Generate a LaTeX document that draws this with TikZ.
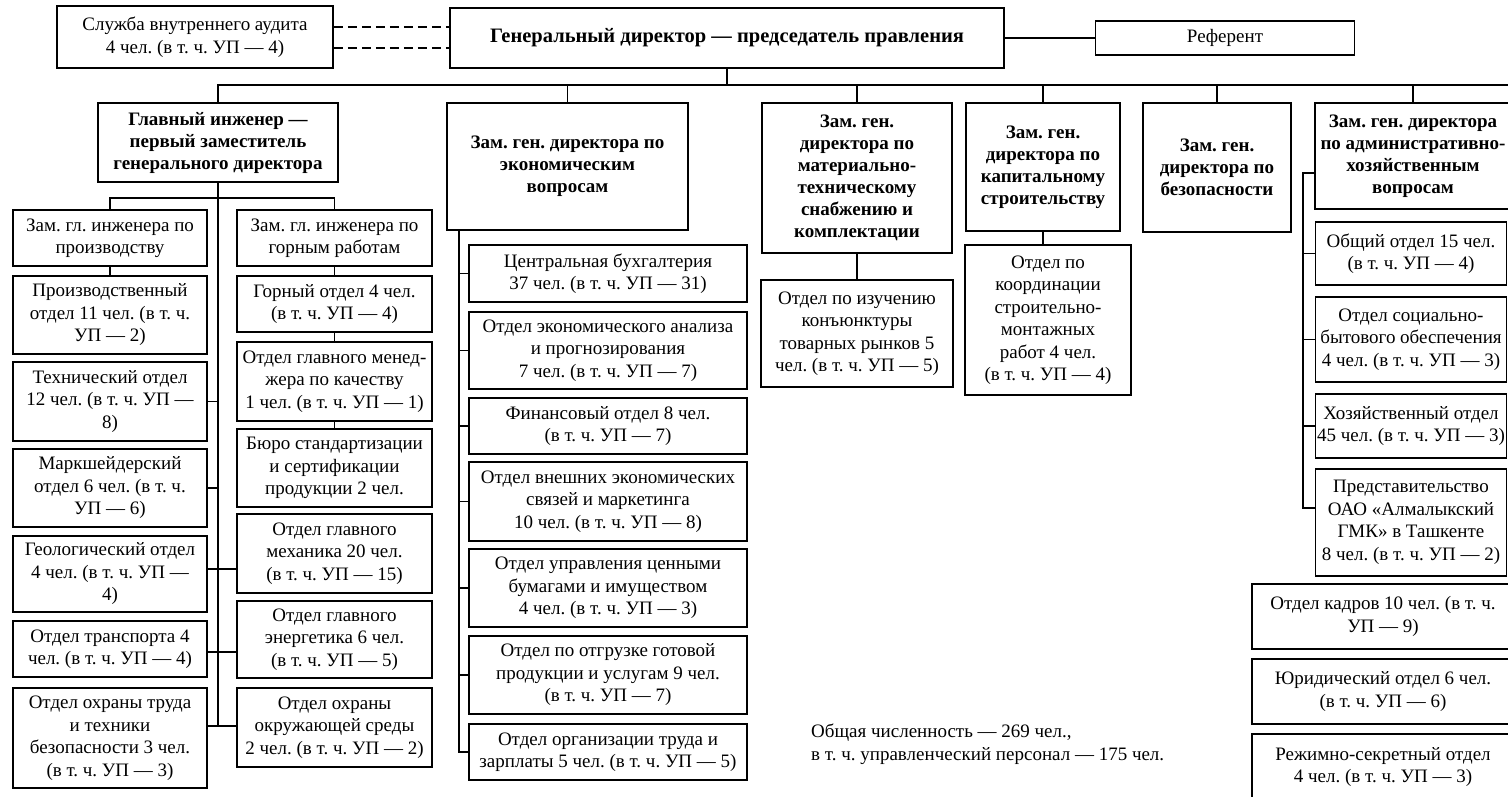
\documentclass[tikz,border=0pt]{standalone}
\usepackage{fontspec}
\setmainfont{Liberation Serif}

\tikzset{
  unit/.style={draw, line width=1.8pt, align=center, inner sep=0pt,
    font=\fontsize{19}{22.5}\selectfont},
  head/.style={unit, font=\fontsize{19}{22}\selectfont\bfseries},
  link/.style={line width=1.4pt},
  dashlink/.style={line width=2.4pt, dash pattern=on 9pt off 5pt},
}

\begin{document}
\frenchspacing
\begin{tikzpicture}[x=1pt,y=-1pt]
\clip (0,0) rectangle (1508,796);

% top level
\node[unit, minimum width=276, minimum height=62] (audit) at (195,37) {Служба внутреннего аудита\\4 чел. (в т. ч. УП — 4)};
\node[head, minimum width=554, minimum height=60, font=\fontsize{20.5}{22}\selectfont\bfseries] (gd) at (727,38) {Генеральный директор — председатель правления};
\node[unit, minimum width=259, minimum height=34] (ref) at (1225,38) {Референт};

\draw[dashlink] (audit.east |- 0,27) -- (gd.west |- 0,27);
\draw[dashlink] (audit.east |- 0,48) -- (gd.west |- 0,48);
\draw[link] (gd.east) -- (ref.west);

% deputies
\node[head, minimum width=240, minimum height=79] (chief) at (218,142.5) {Главный инженер —\\первый заместитель\\генерального директора};
\node[head, minimum width=241, minimum height=127] (econ) at (567.5,166.5) {Зам. ген. директора по\\экономическим\\вопросам};
\node[head, minimum width=190, minimum height=150] (mts) at (857,178) {Зам. ген.\\директора по\\материально-\\техническому\\снабжению и\\комплектации};
\node[head, minimum width=154, minimum height=128] (cap) at (1043,167) {Зам. ген.\\директора по\\капитальному\\строительству};
\node[head, minimum width=148, minimum height=129] (sec) at (1217,167.5) {Зам. ген.\\директора по\\безопасности};
\node[head, minimum width=196, minimum height=106] (adm) at (1413,156) {Зам. ген. директора\\по административно-\\хозяйственным\\вопросам};

\coordinate (busend) at (1510,85);
\draw[link] (gd.south) -- (gd.south |- busend);
\draw[link] (chief.north) |- (busend);
\foreach \n in {econ,mts,cap,sec,adm}
  \draw[link] (\n.north) -- (\n.north |- busend);

% chief engineer
\node[unit, minimum width=194, minimum height=56] (depL) at (110,238) {Зам. гл. инженера по\\производству};
\node[unit, minimum width=195, minimum height=56] (depR) at (334.5,238) {Зам. гл. инженера по\\горным работам};

\node[unit, minimum width=194, minimum height=78] (prod) at (110,315) {Производственный\\отдел 11 чел. (в т. ч.\\УП — 2)};
\node[unit, minimum width=194, minimum height=79] (tech) at (110,401.5) {Технический отдел\\12 чел. (в т. ч. УП —\\8)};
\node[unit, minimum width=194, minimum height=78] (mark) at (110,488) {Маркшейдерский\\отдел 6 чел. (в т. ч.\\УП — 6)};
\node[unit, minimum width=194, minimum height=76] (geo) at (110,574) {Геологический отдел\\4 чел. (в т. ч. УП —\\4)};
\node[unit, minimum width=194, minimum height=56] (trans) at (110,649) {Отдел транспорта 4\\чел. (в т. ч. УП — 4)};
\node[unit, minimum width=194, minimum height=100] (safe) at (110,738) {Отдел охраны труда\\и техники\\безопасности 3 чел.\\(в т. ч. УП — 3)};

\node[unit, minimum width=195, minimum height=56] (mine) at (334.5,304) {Горный отдел 4 чел.\\(в т. ч. УП — 4)};
\node[unit, minimum width=195, minimum height=79] (qual) at (334.5,381.5) {Отдел главного менед-\\жера по качеству\\1 чел. (в т. ч. УП — 1)};
\node[unit, minimum width=195, minimum height=78] (buro) at (334.5,468) {Бюро стандартизации\\и сертификации\\продукции 2 чел.};
\node[unit, minimum width=195, minimum height=79] (mech) at (334.5,553.5) {Отдел главного\\механика 20 чел.\\(в т. ч. УП — 15)};
\node[unit, minimum width=195, minimum height=77] (energ) at (334.5,639.5) {Отдел главного\\энергетика 6 чел.\\(в т. ч. УП — 5)};
\node[unit, minimum width=195, minimum height=79] (eco) at (334.5,727.5) {Отдел охраны\\окружающей среды\\2 чел. (в т. ч. УП — 2)};

\coordinate (cspine) at (chief.south |- 0,726);
\draw[link] (chief.south) -- (cspine);
\draw[link] (depL.north) -- ++(0,-11) -| (depR.north);
\draw[link] (depL.south) -- (prod.north);
\draw[link] (depR.south) -- (mine.north);
\draw[link] (mine.south) -- (qual.north);
\draw[link] (qual.south) -- (buro.north);
\draw[link] (tech.east) -- (tech.east -| cspine);
\draw[link] (mark.east) -- (mark.east -| cspine);
\draw[link] (geo.east |- 0,569) -- (mech.west |- 0,569);
\draw[link] (trans.east |- 0,652) -- (energ.west |- 0,652);
\draw[link] (safe.east |- cspine) -- (eco.west |- cspine);

% economics
\node[unit, minimum width=278, minimum height=57] (buh) at (608,273.5) {Центральная бухгалтерия\\37 чел. (в т. ч. УП — 31)};
\node[unit, minimum width=278, minimum height=77] (anal) at (608,350.5) {Отдел экономического анализа\\и прогнозирования\\7 чел. (в т. ч. УП — 7)};
\node[unit, minimum width=278, minimum height=56] (fin) at (608,426) {Финансовый отдел 8 чел.\\(в т. ч. УП — 7)};
\node[unit, minimum width=278, minimum height=79] (ves) at (608,501.5) {Отдел внешних экономических\\связей и маркетинга\\10 чел. (в т. ч. УП — 8)};
\node[unit, minimum width=278, minimum height=78] (cb) at (608,588) {Отдел управления ценными\\бумагами и имуществом\\4 чел. (в т. ч. УП — 3)};
\node[unit, minimum width=278, minimum height=78] (otgr) at (608,675) {Отдел по отгрузке готовой\\продукции и услугам 9 чел.\\(в т. ч. УП — 7)};
\node[unit, minimum width=278, minimum height=56] (trud) at (608,752) {Отдел организации труда и\\зарплаты 5 чел. (в т. ч. УП — 5)};

\coordinate (espine) at (459,230);
\draw[link] (espine) |- (trud.west);
\foreach \n in {buh,anal,fin,ves,cb,otgr}
  \draw[link] (\n.west) -- (\n.west -| espine);

% supply and construction
\node[unit, minimum width=192, minimum height=107] (mtsc) at (857,333.5) {Отдел по изучению\\конъюнктуры\\товарных рынков 5\\чел. (в т. ч. УП — 5)};
\node[unit, minimum width=166, minimum height=150] (capc) at (1048,320) {Отдел по\\координации\\строительно-\\монтажных\\работ 4 чел.\\(в т. ч. УП — 4)};
\draw[link] (mts.south) -- (mtsc.north);
\draw[link] (cap.south) -- (cap.south |- capc.north);

% administration
\node[unit, minimum width=191, minimum height=63] (gen) at (1411,253.5) {Общий отдел 15 чел.\\(в т. ч. УП — 4)};
\node[unit, minimum width=191, minimum height=85] (soc) at (1411,339.5) {Отдел социально-\\бытового обеспечения\\4 чел. (в т. ч. УП — 3)};
\node[unit, minimum width=191, minimum height=64] (hoz) at (1411,426) {Хозяйственный отдел\\45 чел. (в т. ч. УП — 3)};
\node[unit, minimum width=191, minimum height=107] (rep) at (1411,522.5) {Представительство\\ОАО «Алмалыкский\\ГМК» в Ташкенте\\8 чел. (в т. ч. УП — 2)};

\coordinate (aspine) at (1303,173);
\draw[link] (adm.west |- aspine) -- (aspine) |- (rep.west |- 0,508);
\foreach \n in {gen,soc,hoz}
  \draw[link] (\n.west) -- (\n.west -| aspine);

\node[unit, minimum width=262, minimum height=65] (kadr) at (1383,616.5) {Отдел кадров 10 чел. (в т. ч.\\УП — 9)};
\node[unit, minimum width=262, minimum height=65] (jur) at (1383,691.5) {Юридический отдел 6 чел.\\(в т. ч. УП — 6)};
\node[unit, minimum width=262, minimum height=66] (rezh) at (1383,767) {Режимно-секретный отдел\\4 чел. (в т. ч. УП — 3)};

% total
\node[align=left, anchor=west, inner sep=0pt, font=\fontsize{19}{22.5}\selectfont] (total) at (811,744) {Общая численность — 269 чел.,\\в т. ч. управленческий персонал — 175 чел.};
\end{tikzpicture}
\end{document}
